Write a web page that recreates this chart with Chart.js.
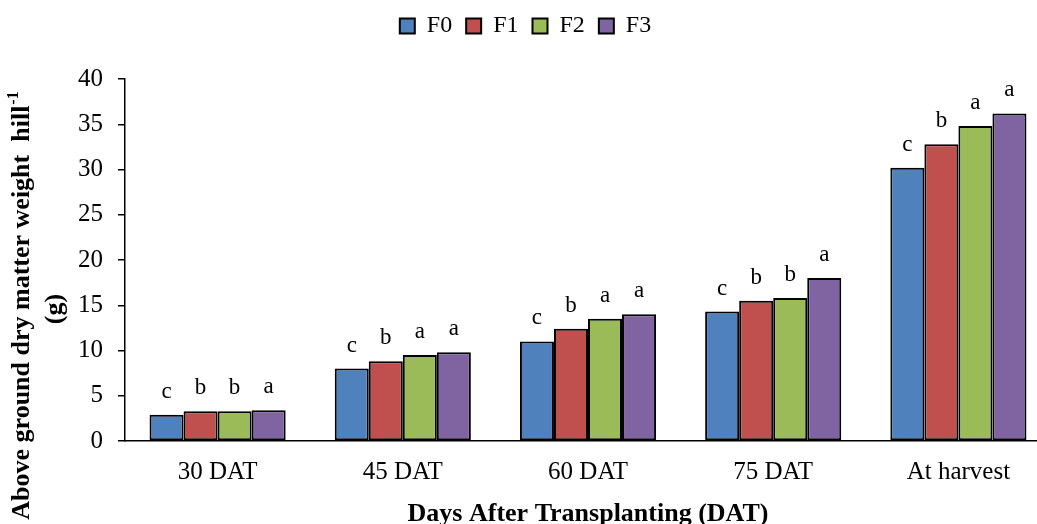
<!DOCTYPE html>
<html>
<head>
<meta charset="utf-8">
<script src="https://cdn.jsdelivr.net/npm/chart.js@4"></script>
<style>
  html, body { margin: 0; padding: 0; background: #fff; overflow: hidden; width: 1037px; height: 524px; }
  #wrap { width: 1052px; height: 524px; }
</style>
</head>
<body>
<div id="wrap"><canvas id="c" width="1052" height="524"></canvas></div>
<script>
// Above-ground dry matter per hill (g) by sampling date and fertilizer level
const categories = ['30 DAT', '45 DAT', '60 DAT', '75 DAT', 'At harvest'];
const seriesNames = ['F0', 'F1', 'F2', 'F3'];
const f0 = [2.9, 8.0, 11.0, 14.3, 30.2];
const f1 = [3.3, 8.8, 12.4, 15.5, 32.8];
const f2 = [3.3, 9.5, 13.5, 15.8, 34.8];
const f3 = [3.4, 9.8, 14.0, 18.0, 36.2];
// Significance letters (DMRT) shown above each bar
const sigF0 = ['c', 'c', 'c', 'c', 'c'];
const sigF1 = ['b', 'b', 'b', 'b', 'b'];
const sigF2 = ['b', 'a', 'a', 'b', 'a'];
const sigF3 = ['a', 'a', 'a', 'a', 'a'];
const yTicks = [0, 5, 10, 15, 20, 25, 30, 35, 40];

const colors = ['#4F81BD', '#C0504D', '#9BBB59', '#8064A2'];
const values = [f0, f1, f2, f3];
const letters = [sigF0, sigF1, sigF2, sigF3];
const SERIF = '"Liberation Serif", "Times New Roman", serif';
const LEGEND_BLOCK = 79; // height reserved above the plot for the legend

// Reserve a fixed band at the top for the legend
const legendBand = {
  id: 'legendBand',
  beforeLayout(chart) {
    const lg = chart.legend;
    if (lg && !lg._bandWrapped) {
      const fit = lg.fit.bind(lg);
      lg.fit = function () { fit(); this.height = LEGEND_BLOCK; };
      lg._bandWrapped = true;
    }
  }
};

// Letters above bars
const sigLabels = {
  id: 'sigLabels',
  afterDatasetsDraw(chart) {
    const ctx = chart.ctx;
    ctx.save();
    ctx.font = '23px ' + SERIF;
    ctx.fillStyle = '#000';
    ctx.textAlign = 'center';
    ctx.textBaseline = 'alphabetic';
    chart.data.datasets.forEach((ds, i) => {
      const meta = chart.getDatasetMeta(i);
      meta.data.forEach((bar, j) => {
        ctx.fillText(ds.sig[j], bar.x, bar.y - 17);
      });
    });
    ctx.restore();
  }
};

// Two-line rotated y-axis title with superscript
const yTitle = {
  id: 'yTitle',
  afterDraw(chart) {
    const ctx = chart.ctx;
    const cy = 306;
    ctx.save();
    ctx.fillStyle = '#000';
    ctx.textBaseline = 'middle';
    const main = 'Above ground dry matter weight  hill';
    const sup = '-1';
    const mainFont = 'bold 26px ' + SERIF;
    const supFont = 'bold 16px ' + SERIF;
    ctx.font = mainFont;
    const wMain = ctx.measureText(main).width;
    ctx.font = supFont;
    const wSup = ctx.measureText(sup).width;
    const total = wMain + wSup;
    // line 1
    ctx.translate(22, cy);
    ctx.rotate(-Math.PI / 2);
    ctx.textAlign = 'left';
    ctx.font = mainFont;
    ctx.fillText(main, -total / 2, 0);
    ctx.font = supFont;
    ctx.fillText(sup, -total / 2 + wMain + 1, -8);
    ctx.restore();
    // line 2
    ctx.save();
    ctx.fillStyle = '#000';
    ctx.textBaseline = 'middle';
    ctx.textAlign = 'center';
    ctx.font = mainFont;
    ctx.translate(55, cy + 3);
    ctx.rotate(-Math.PI / 2);
    ctx.fillText('(g)', 0, 0);
    ctx.restore();
  }
};

new Chart(document.getElementById('c'), {
  type: 'bar',
  data: {
    labels: categories,
    datasets: seriesNames.map((name, i) => ({
      label: name,
      data: values[i],
      sig: letters[i],
      backgroundColor: colors[i],
      borderColor: '#000',
      borderWidth: 2,
      borderSkipped: false,
      categoryPercentage: 0.735,
      barPercentage: 1.0
    }))
  },
  options: {
    responsive: false,
    animation: false,
    devicePixelRatio: 1,
    layout: { padding: { left: 0, right: 1, top: 0, bottom: 0 } },
    plugins: {
      tooltip: { enabled: false },
      legend: {
        position: 'top',
        labels: {
          font: { family: SERIF, size: 24 },
          color: '#000',
          boxWidth: 15,
          boxHeight: 15,
          padding: 14
        }
      }
    },
    scales: {
      x: {
        grid: { display: false },
        border: { display: true, color: '#000', width: 1.5 },
        ticks: { color: '#000', font: { family: SERIF, size: 25 }, padding: 8, maxRotation: 0 },
        title: {
          display: true,
          text: 'Days After Transplanting (DAT)',
          color: '#000',
          font: { family: SERIF, size: 26, weight: 'bold', lineHeight: 1 },
          padding: { top: 0, bottom: -3 }
        },
        afterFit(scale) { scale.height = 83; }
      },
      y: {
        min: 0,
        max: 40,
        afterBuildTicks(scale) { scale.ticks = yTicks.map(v => ({ value: v })); },
        grid: { drawOnChartArea: false, drawTicks: true, tickLength: 7, color: '#000', lineWidth: 1.5 },
        border: { display: true, color: '#000', width: 1.5 },
        ticks: { color: '#000', font: { family: SERIF, size: 25 }, padding: 15 },
        afterFit(scale) { scale.width = 125; }
      }
    }
  },
  plugins: [legendBand, sigLabels, yTitle]
});
</script>
</body>
</html>
